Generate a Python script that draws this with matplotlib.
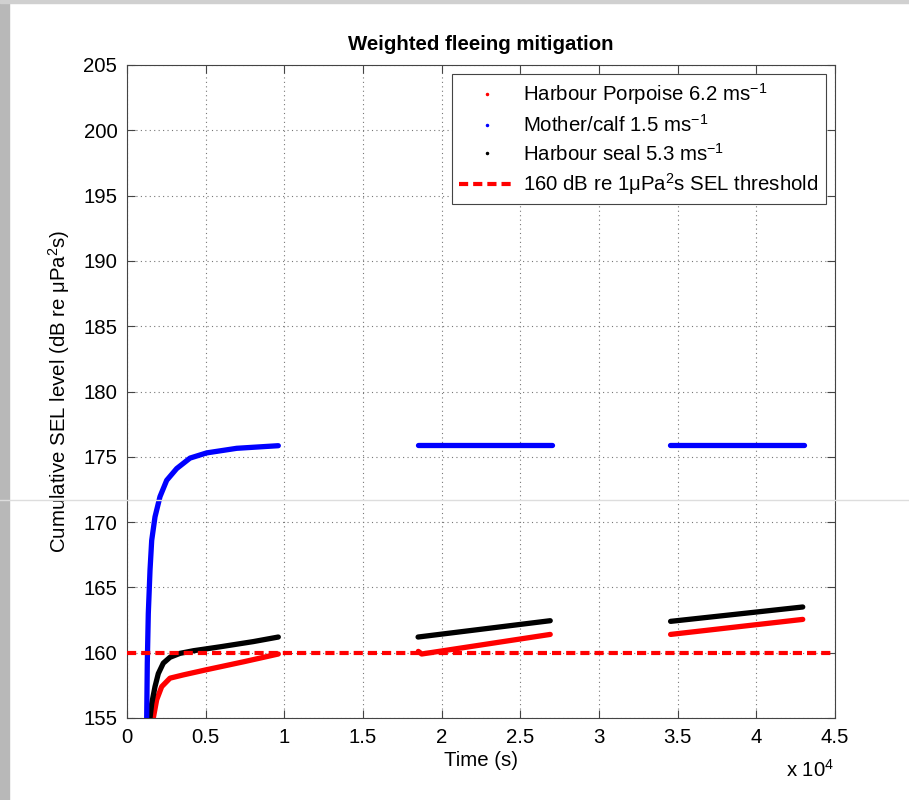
import numpy as np
import matplotlib
matplotlib.use("Agg")
from matplotlib import pyplot as plt
from matplotlib.lines import Line2D
from matplotlib.patches import Rectangle

# values (time in s, SEL in dB)
t_calf1 = [1252, 1290, 1354, 1462, 1570, 1780, 2097, 2523, 3159, 4004, 5066, 6972, 9617]
sel_calf1 = [155.0, 159.2, 163.0, 166.3, 168.6, 170.4, 171.95, 173.2, 174.1, 174.9, 175.3, 175.65, 175.85]
t_calf2 = [18500, 27000]
sel_calf2 = [175.9, 175.9]
t_calf3 = [34500, 43000]
sel_calf3 = [175.9, 175.9]

t_seal1 = [1462, 1570, 1780, 1990, 2307, 2733, 3369, 4216, 5911, 8028, 9617]
sel_seal1 = [155.0, 156.1, 157.4, 158.4, 159.2, 159.65, 159.95, 160.15, 160.45, 160.85, 161.2]
t_seal2 = [18500, 26900]
sel_seal2 = [161.2, 162.45]
t_seal3 = [34550, 42950]
sel_seal3 = [162.4, 163.5]

t_porp1 = [1672, 1888, 2205, 2733, 3579, 5066, 7392, 9617]
sel_porp1 = [155.0, 156.4, 157.4, 158.05, 158.3, 158.7, 159.3, 159.9]
t_porp2 = [18516, 18730, 26900]
sel_porp2 = [160.1, 159.9, 161.4]
t_porp3 = [34550, 42950]
sel_porp3 = [161.4, 162.55]

threshold = 160
xticks = [0, 5000, 10000, 15000, 20000, 25000, 30000, 35000, 40000, 45000]
yticks = [155, 160, 165, 170, 175, 180, 185, 190, 195, 200, 205]

plt.rcParams['font.family'] = ['Liberation Sans', 'DejaVu Sans']
plt.rcParams['mathtext.fontset'] = 'custom'
plt.rcParams['mathtext.rm'] = 'Liberation Sans'
plt.rcParams['mathtext.it'] = 'Liberation Sans'

fs = 14.7
fig = plt.figure(figsize=(9.09, 8), dpi=100)
ax = fig.add_axes([127/909, 1-718/800, (835-127)/909, (718-65)/800])

for t, s in [(t_porp1, sel_porp1), (t_porp2, sel_porp2), (t_porp3, sel_porp3)]:
    ax.plot(t, s, color='#ff0000', lw=3.8, solid_capstyle='round',
            solid_joinstyle='round', zorder=3)
for t, s in [(t_seal1, sel_seal1), (t_seal2, sel_seal2), (t_seal3, sel_seal3)]:
    ax.plot(t, s, color='black', lw=3.8, solid_capstyle='round',
            solid_joinstyle='round', zorder=4)
for t, s in [(t_calf1, sel_calf1), (t_calf2, sel_calf2), (t_calf3, sel_calf3)]:
    ax.plot(t, s, color='#0000ff', lw=3.8, solid_capstyle='round',
            solid_joinstyle='round', zorder=5)
ax.axhline(threshold, color='#ff0000', lw=3, linestyle=(0, (2.2, 1.2)), zorder=6)

ax.set_xlim(0, 45000)
ax.set_ylim(155, 205)
ax.set_xticks(xticks)
ax.set_xticklabels([f"{x/1e4:g}" for x in xticks])
ax.set_yticks(yticks)
ax.grid(True, linestyle=(0, (1, 3)), color='#777777', lw=0.8)
ax.tick_params(direction='in', top=True, right=True, length=6, labelsize=fs,
               color='#444444', pad=7)
for sp in ax.spines.values():
    sp.set_color('#444444')

ax.set_title('Weighted fleeing mitigation', fontsize=fs, fontweight='bold', pad=11)
ax.set_xlabel('Time (s)', fontsize=fs, labelpad=3)
ax.set_ylabel(r'Cumulative SEL level (dB re $\mu$Pa$^2$s)', fontsize=fs, labelpad=8)
fig.text(786/909, 1-770/800, r'x 10$^4$', fontsize=fs, ha='left', va='center')

handles = [
    Line2D([], [], color='#ff0000', marker='.', markersize=3, linestyle='none'),
    Line2D([], [], color='#0000ff', marker='.', markersize=3, linestyle='none'),
    Line2D([], [], color='black', marker='.', markersize=3, linestyle='none'),
    Line2D([], [], color='#ff0000', lw=3, linestyle=(0, (2.2, 1.2))),
]
labels = [r'Harbour Porpoise 6.2 ms$^{-1}$', r'Mother/calf 1.5 ms$^{-1}$',
          r'Harbour seal 5.3 ms$^{-1}$', r'160 dB re 1$\mu$Pa$^2$s SEL threshold']
leg = ax.legend(handles, labels, loc='upper right', fontsize=fs, fancybox=False,
                framealpha=1, edgecolor='#444444', handlelength=2.75,
                handletextpad=0.4, borderpad=0.35, borderaxespad=0.45,
                labelspacing=0.33)
leg.get_frame().set_linewidth(0.8)

# screenshot frame: grey strip on the left and top, faint line across
fig.add_artist(Rectangle((0, 0), 9/909, 1, transform=fig.transFigure,
                         color='#b8b8b8', zorder=0))
fig.add_artist(Rectangle((0, 1-3/800), 1, 3/800, transform=fig.transFigure,
                         color='#d0d0d0', zorder=0))
fig.add_artist(Line2D([0, 1], [1-500/800, 1-500/800], transform=fig.transFigure,
                      color='#dddddd', lw=1, zorder=10))

fig.savefig('out.png', dpi=100)
